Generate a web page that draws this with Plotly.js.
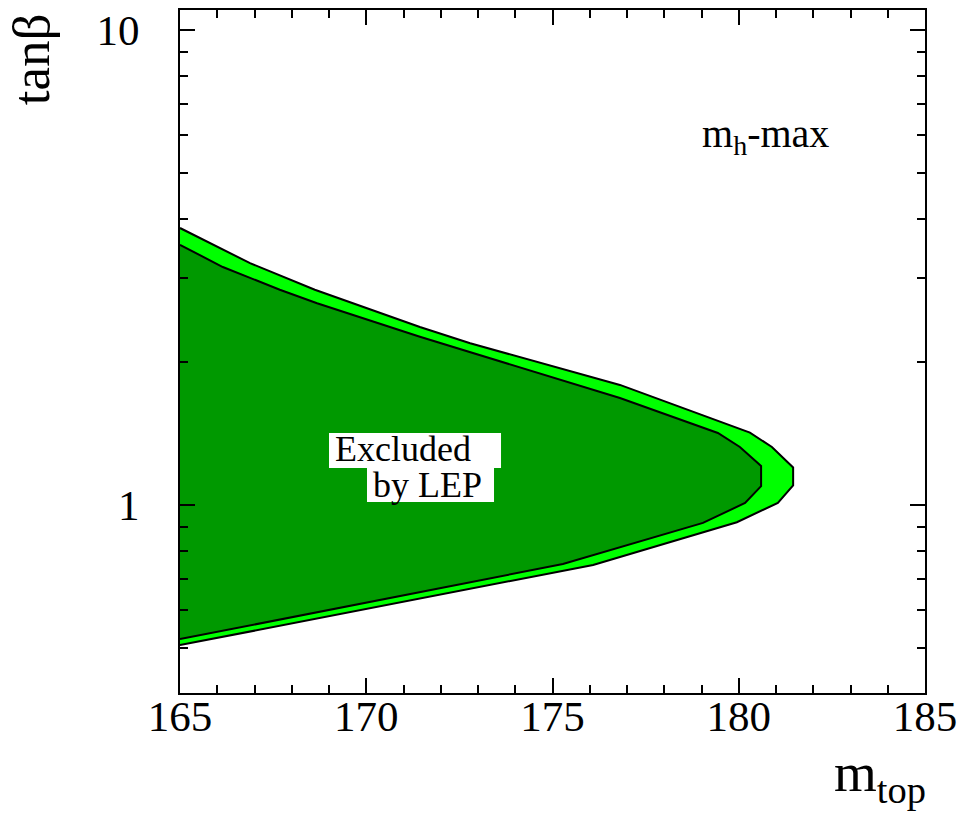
<!DOCTYPE html>
<html>
<head>
<meta charset="utf-8">
<script src="https://cdn.plot.ly/plotly-3.0.1.min.js"></script>
<style>html,body{margin:0;padding:0;background:#fff;}#chart{width:965px;height:822px;}</style>
</head>
<body>
<div id="chart"></div>
<script>
// Outer (light green) excluded region boundary: upper edge left->right, then lower edge right->left
const outerMtop = [165.0, 166.88, 168.62, 171.44, 172.79, 176.81, 180.30, 180.89, 181.46, 181.46, 181.05, 179.95, 176.09, 165.0];
const outerTanb = [3.83, 3.23, 2.84, 2.37, 2.19, 1.79, 1.42, 1.325, 1.20, 1.10, 1.01, 0.92, 0.748, 0.507];
// Inner (dark green) excluded region boundary
const innerMtop = [165.0, 166.15, 167.68, 168.68, 171.44, 176.81, 179.44, 180.03, 180.60, 180.60, 180.17, 179.04, 175.28, 165.0];
const innerTanb = [3.53, 3.17, 2.84, 2.66, 2.26, 1.68, 1.418, 1.325, 1.208, 1.096, 1.01, 0.917, 0.751, 0.522];

const xTicks = [165, 170, 175, 180, 185];
const xTickText = ["165", "170", "175", "180", "185"];
const xMinor = [166,167,168,169,171,172,173,174,176,177,178,179,181,182,183,184];
const yTicks = [1, 10];
const yTickText = ["1", "10"];
const yMinor = [0.4,0.5,0.6,0.7,0.8,0.9,2,3,4,5,6,7,8,9,11];

// all x tick positions (major labelled, minor unlabelled)
const xAllVals = xTicks.concat(xMinor);
const xAllText = xTickText.concat(xMinor.map(() => ''));

const FONT = 'Liberation Serif, Times New Roman, serif';

const traces = [
  {x: outerMtop, y: outerTanb, xaxis: 'x', yaxis: 'y', type: 'scatter', mode: 'lines', fill: 'toself',
   fillcolor: '#00ff00', line: {color: '#000', width: 2}, hoverinfo: 'skip'},
  {x: innerMtop, y: innerTanb, xaxis: 'x2', yaxis: 'y', type: 'scatter', mode: 'lines', fill: 'toself',
   fillcolor: '#009900', line: {color: '#000', width: 2}, hoverinfo: 'skip'}
];

const layout = {
  width: 965, height: 822,
  margin: {l: 180, r: 40, t: 10, b: 129, pad: 0},
  paper_bgcolor: '#fff', plot_bgcolor: '#fff',
  showlegend: false,
  font: {family: FONT, color: '#000', size: 44},
  xaxis: {
    range: [165, 185], tickmode: 'array', tickvals: xAllVals, ticktext: xAllText,
    ticks: 'inside', ticklen: 8, tickwidth: 2, tickcolor: '#000',
    showline: true, linecolor: '#000', linewidth: 2, mirror: 'ticks',
    showgrid: false, zeroline: false,
    tickfont: {family: FONT, size: 43, color: '#000'},
    ticklabelstandoff: -16
  },
  xaxis2: {
    overlaying: 'x', anchor: 'y', side: 'bottom',
    range: [165, 185], tickmode: 'array', tickvals: xTicks,
    showticklabels: false,
    ticks: 'inside', ticklen: 15, tickwidth: 2, tickcolor: '#000',
    showline: false, mirror: 'ticks',
    showgrid: false, zeroline: false
  },
  yaxis: {
    type: 'log', range: [Math.log10(0.402), Math.log10(11.02)],
    tickmode: 'array', tickvals: yTicks, ticktext: yTickText,
    ticks: 'inside', ticklen: 15, tickwidth: 2, tickcolor: '#000',
    showline: true, linecolor: '#000', linewidth: 2, mirror: 'ticks',
    showgrid: false, zeroline: false,
    tickfont: {family: FONT, size: 43, color: '#000'},
    ticklabelstandoff: 30,
    minor: {tickmode: 'array', tickvals: yMinor, ticks: 'inside', ticklen: 8, tickwidth: 2, tickcolor: '#000', showgrid: false}
  },
  shapes: [
    {type: 'rect', xref: 'paper', yref: 'paper', x0: 0.200, x1: 0.4309, y0: 0.3294, y1: 0.3807,
     fillcolor: '#fff', line: {width: 0}, layer: 'above'},
    {type: 'rect', xref: 'paper', yref: 'paper', x0: 0.251, x1: 0.4215, y0: 0.2796, y1: 0.3294,
     fillcolor: '#fff', line: {width: 0}, layer: 'above'}
  ],
  annotations: [
    {text: 'Excluded', xref: 'paper', yref: 'paper', x: 0.206, y: 0.357, xanchor: 'left', yanchor: 'middle',
     showarrow: false, font: {family: FONT, size: 36, color: '#000'}},
    {text: 'by LEP', xref: 'paper', yref: 'paper', x: 0.257, y: 0.305, xanchor: 'left', yanchor: 'middle',
     showarrow: false, font: {family: FONT, size: 36, color: '#000'}},
    {text: 'm<sub>h</sub>-max', xref: 'paper', yref: 'paper', x: 0.698, y: 0.815, xanchor: 'left', yanchor: 'middle',
     showarrow: false, font: {family: FONT, size: 40, color: '#000'}},
    {text: 'tanβ', xref: 'paper', yref: 'paper', x: -0.2, y: 0.928, xanchor: 'center', yanchor: 'middle',
     textangle: -90, showarrow: false, font: {family: FONT, size: 53, color: '#000'}},
    {text: 'm<sub>top</sub>', xref: 'paper', yref: 'paper', x: 1.004, y: -0.122, xanchor: 'right', yanchor: 'middle',
     showarrow: false, font: {family: FONT, size: 55, color: '#000'}}
  ]
};

Plotly.newPlot('chart', traces, layout, {staticPlot: true, displayModeBar: false});
</script>
</body>
</html>
